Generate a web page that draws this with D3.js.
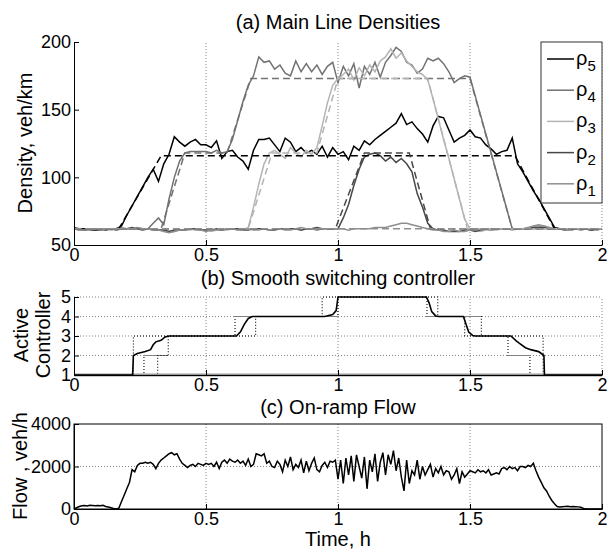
<!DOCTYPE html>
<html>
<head>
<meta charset="utf-8">
<script src="https://cdn.jsdelivr.net/npm/d3@7"></script>
<style>
  body { margin: 0; background: #fff; }
  svg text { font-family: "Liberation Sans", Arial, Helvetica, sans-serif; fill: #000; }
</style>
</head>
<body>
<svg id="chart" width="609" height="551"></svg>
<script>
// ---- data ----
// densities sampled every 0.02 h
let densityTimes = d3.range(0, 101).map(i => +(i * 0.02).toFixed(2))

let rho5 = [
  62, 62, 62, 61, 61, 61, 62, 62, 62, 64,
  72, 79, 86, 93, 100, 106, 97, 110, 117, 130,
  126, 123, 126, 128, 124, 124, 122, 127, 114, 119,
  120, 115, 112, 106, 120, 128, 128, 129, 124, 119,
  129, 126, 119, 122, 118, 120, 117, 123, 115, 122,
  117, 119, 113, 123, 120, 127, 124, 128, 131, 134,
  137, 140, 147, 139, 141, 136, 132, 126, 138, 145,
  144, 135, 126, 129, 131, 135, 130, 129, 124, 121,
  117, 119, 120, 129, 110, 104, 97, 90, 84, 77,
  70, 63, 62, 62, 61, 62, 62, 62, 61, 62,
  62
]
let rho4 = [
  62, 61, 61, 62, 62, 61, 62, 62, 61, 62,
  62, 62, 62, 61, 62, 66, 70, 65, 84, 100,
  112, 118, 119, 119, 119, 119, 118, 120, 118, 119,
  128, 142, 156, 168, 175, 189, 185, 186, 180, 183,
  177, 175, 186, 178, 184, 178, 183, 176, 182, 185,
  170, 182, 175, 184, 166, 182, 176, 185, 174, 185,
  190, 196, 193, 185, 183, 177, 180, 188, 186, 188,
  184, 178, 170, 173, 175, 174, 160, 146, 132, 118,
  104, 90, 76, 62, 62, 62, 62, 63, 64, 63,
  62, 62, 62, 62, 61, 62, 62, 62, 61, 62,
  62
]
let rho3 = [
  62, 62, 61, 61, 62, 62, 62, 61, 62, 62,
  62, 62, 63, 62, 62, 62, 61, 61, 60, 60,
  61, 61, 61, 62, 61, 61, 60, 61, 61, 61,
  62, 61, 61, 63, 78, 95, 110, 118, 120, 117,
  114, 122, 118, 115, 120, 117, 122, 138, 155, 168,
  173, 176, 180, 172, 181, 175, 183, 178, 186, 189,
  195, 188, 192, 186, 182, 178, 176, 172, 158, 143,
  128, 114, 99, 84, 69, 62, 61, 60, 61, 61,
  61, 62, 62, 61, 62, 62, 62, 63, 64, 64,
  63, 62, 62, 62, 61, 62, 62, 62, 61, 62,
  62
]
let rho2 = [
  63, 62, 61, 62, 62, 62, 61, 62, 62, 62,
  62, 63, 62, 62, 62, 61, 61, 61, 60, 61,
  61, 61, 62, 62, 61, 61, 61, 62, 61, 62,
  62, 62, 61, 61, 62, 62, 62, 61, 61, 62,
  62, 62, 62, 61, 62, 62, 63, 62, 62, 62,
  62, 70, 80, 94, 106, 115, 117, 118, 116, 112,
  115, 111, 114, 110, 104, 88, 78, 66, 62, 61,
  61, 60, 60, 60, 61, 61, 60, 61, 62, 62,
  62, 62, 62, 62, 62, 62, 62, 63, 63, 63,
  62, 62, 62, 61, 62, 62, 62, 62, 61, 62,
  62
]
let rho1 = [
  62, 61, 61, 62, 62, 61, 62, 62, 62, 63,
  62, 62, 63, 62, 62, 61, 61, 60, 59, 60,
  61, 61, 62, 61, 61, 60, 61, 61, 61, 62,
  62, 61, 61, 62, 61, 61, 62, 61, 62, 62,
  61, 61, 62, 63, 62, 62, 61, 62, 62, 62,
  62, 62, 61, 62, 62, 62, 62, 63, 63, 63,
  64, 65, 66, 66, 65, 64, 63, 62, 61, 61,
  60, 60, 61, 60, 60, 61, 61, 62, 62, 61,
  62, 62, 62, 62, 62, 62, 63, 64, 65, 64,
  63, 62, 62, 61, 62, 62, 61, 62, 62, 61,
  62
]

// desired (dashed) densities
let refTimes5 = [0, 0.17, 0.33, 1.67, 1.82, 2]
let refValues5 = [62, 62, 116, 116, 62, 62]
let refTimes4 = [0, 0.33, 0.42, 0.58, 0.67, 1.5, 1.66, 2]
let refValues4 = [62, 62, 118, 118, 173, 173, 62, 62]
let refTimes3 = [0, 0.66, 0.75, 0.92, 1.0, 1.34, 1.49, 2]
let refValues3 = [62, 62, 118, 118, 173, 173, 62, 62]
let refTimes2 = [0, 0.99, 1.1, 1.27, 1.35, 2]
let refValues2 = [62, 62, 118, 118, 62, 62]
let refTimes1 = [0, 2]
let refValues1 = [62, 62]

let seriesNames = ['ρ5', 'ρ4', 'ρ3', 'ρ2', 'ρ1']
let seriesColors = ['#000000', '#727272', '#b4b4b4', '#474747', '#8f8f8f']

// active controller (smooth) and switching signals (dotted)
let ctrlTimes = [0, 0.222, 0.225, 0.24, 0.27, 0.29, 0.30, 0.31, 0.33, 0.345, 0.36,
  0.615, 0.63, 0.645, 0.66, 0.675, 0.95, 0.98, 0.993, 1.0, 1.335, 1.345, 1.355, 1.37, 1.38,
  1.475, 1.485, 1.495, 1.51, 1.52, 1.655, 1.675, 1.69, 1.71, 1.73, 1.76, 1.78, 1.782, 2]
let ctrlValues = [1, 1, 2.0, 2.1, 2.2, 2.3, 2.55, 2.7, 2.78, 2.95, 3.0,
  3.0, 3.2, 3.6, 3.9, 4.0, 4.0, 4.1, 4.3, 5.0, 5.0, 4.7, 4.25, 4.03, 4.0,
  4.0, 3.6, 3.2, 3.03, 3.0, 3.0, 2.75, 2.6, 2.4, 2.3, 2.2, 2.0, 1.0, 1]
let switchTimesA = [0, 0.225, 0.225, 0.61, 0.61, 0.94, 0.94, 1.378, 1.378, 1.543, 1.543, 1.777, 1.777, 2]
let switchValuesA = [1, 1, 3, 3, 4, 4, 5, 5, 4, 4, 3, 3, 1, 1]
let switchTimesB = [0, 0.265, 0.265, 0.357, 0.357, 0.688, 0.688, 1.0, 1.0, 1.337, 1.337, 1.48, 1.48, 1.644, 1.644, 1.727, 1.727, 2]
let switchValuesB = [1, 1, 2, 2, 3, 3, 4, 4, 5, 5, 4, 4, 3, 3, 2, 2, 1, 1]
let switchTimesC = [0.265, 0.317, 0.317, 0.357]
let switchValuesC = [1, 1, 2, 2]

// on-ramp flow sampled every 0.01 h
let flowTimes = d3.range(0, 201).map(i => +(i * 0.01).toFixed(2))
let flow = [
  0, 60, 120, 150, 160, 140, 180, 170, 150, 160,
  150, 170, 120, 90, 60, 20, 0, 40, 350, 650,
  950, 1250, 1850, 1750, 2050, 2150, 2150, 2200, 2150, 2200,
  2100, 1900, 2150, 2300, 2400, 2500, 2600, 2650, 2550, 2600,
  2350, 2150, 2050, 1950, 2050, 2100, 2000, 2150, 2100, 2050,
  2150, 2100, 2150, 2000, 2200, 1900, 2200, 2300, 2150, 2350,
  2250, 2200, 2300, 2150, 2250, 2050, 2350, 2000, 2100, 2600,
  2550, 2500, 2600, 2150, 2250, 2000, 1950, 2250, 2100, 1750,
  2300, 2000, 2450, 1850, 2100, 1950, 2300, 1700, 2250, 1800,
  2150, 2400, 1850, 1750, 2050, 2200, 1950, 2250, 2200, 2300,
  1400, 2300, 1200, 2400, 1600, 2500, 1300, 2550, 2000, 1450,
  2450, 950, 2300, 1750, 2600, 1300, 2200, 2650, 1600, 2550,
  2100, 2750, 1800, 2400, 1500, 850, 2300, 1200, 1800, 1600,
  2300, 1400, 2000, 1600, 1850, 2100, 1500, 1900, 1700, 2000,
  1600, 1800, 1750, 1400, 1600, 1900, 1200, 1750, 1500, 1650,
  1800, 1750, 1700, 1850, 1750, 1800, 1700, 1850, 1600, 1650,
  1700, 1650, 1900, 1950, 1850, 2000, 1900, 1950, 1800, 2000,
  2000, 1950, 2050, 2000, 2150, 1800, 1500, 1250, 1000, 850,
  600, 400, 250, 120, 100, 110, 120, 130, 110, 120,
  110, 100, 80, 30, 0, 0, 0, 0, 0, 0,
  0
]

let timeTicks = [0, 0.5, 1, 1.5, 2]
let densityTicks = [50, 100, 150, 200]
let ctrlTicks = [1, 2, 3, 4, 5]
let flowTicks = [0, 2000, 4000]

// ---- layout ----
let svg = d3.select('#chart')
let left = 74
let right = 602
let tickFont = 18
let labelFont = 20

let x = d3.scaleLinear().domain([0, 2]).range([left, right])
let yDen = d3.scaleLinear().domain([50, 200]).range([245, 42])
let yCtl = d3.scaleLinear().domain([1, 5]).range([375, 297])
let yFlow = d3.scaleLinear().domain([0, 4000]).range([509, 424])

let gridColor = '#666'

function pairs (ts, vs) {
  return ts.map((t, i) => [t, vs[i]])
}

function vGrid (y, values) {
  svg.append('g').selectAll('line')
    .data(values)
    .enter().append('line')
    .attr('x1', d => x(d)).attr('x2', d => x(d))
    .attr('y1', y.range()[0]).attr('y2', y.range()[1])
    .attr('stroke', gridColor).attr('stroke-width', 0.8)
    .attr('stroke-dasharray', '1,2')
}

function hGrid (y, values) {
  svg.append('g').selectAll('line')
    .data(values)
    .enter().append('line')
    .attr('x1', left).attr('x2', right)
    .attr('y1', d => y(d)).attr('y2', d => y(d))
    .attr('stroke', gridColor).attr('stroke-width', 0.8)
    .attr('stroke-dasharray', '1,2')
}

function axes (y, yTicks) {
  let bottom = y.range()[0]
  let gx = svg.append('g')
    .attr('transform', 'translate(0,' + bottom + ')')
    .call(d3.axisBottom(x).tickValues(timeTicks).tickFormat(d => d)
      .tickSizeInner(-5).tickSizeOuter(0).tickPadding(3))
  let gy = svg.append('g')
    .attr('transform', 'translate(' + left + ',0)')
    .call(d3.axisLeft(y).tickValues(yTicks).tickFormat(d => d)
      .tickSizeInner(-5).tickSizeOuter(0).tickPadding(3))
  ;[gx, gy].forEach(g => {
    g.select('.domain').attr('stroke', '#000').attr('stroke-width', 1)
    g.selectAll('.tick line').attr('stroke', '#000')
    g.selectAll('text').attr('font-size', tickFont)
      .attr('font-family', '"Liberation Sans", Arial, sans-serif')
  })
}

function title (text, yPos) {
  svg.append('text')
    .attr('x', (left + right) / 2).attr('y', yPos)
    .attr('text-anchor', 'middle').attr('dominant-baseline', 'central')
    .attr('font-size', labelFont)
    .text(text)
}

function yLabel (text, xPos, yPos) {
  svg.append('text')
    .attr('transform', 'translate(' + xPos + ',' + yPos + ') rotate(-90)')
    .attr('text-anchor', 'middle').attr('dominant-baseline', 'central')
    .attr('font-size', labelFont)
    .text(text)
}

// ---- (a) main line densities ----
vGrid(yDen, [0.5, 1, 1.5, 2])
title('(a) Main Line Densities', 22)

let denLine = d3.line().x(d => x(d[0])).y(d => yDen(d[1]))
let solidSeries = [rho5, rho4, rho3, rho2, rho1]
let refSeries = [
  pairs(refTimes5, refValues5), pairs(refTimes4, refValues4), pairs(refTimes3, refValues3),
  pairs(refTimes2, refValues2), pairs(refTimes1, refValues1)
]

solidSeries.forEach((vals, i) => {
  svg.append('path')
    .datum(pairs(densityTimes, vals))
    .attr('d', denLine)
    .attr('fill', 'none')
    .attr('stroke', seriesColors[i])
    .attr('stroke-width', 1.5)
})
refSeries.forEach((pts, i) => {
  svg.append('path')
    .datum(pts)
    .attr('d', denLine)
    .attr('fill', 'none')
    .attr('stroke', seriesColors[i])
    .attr('stroke-width', 1.5)
    .attr('stroke-dasharray', '7,4')
})

axes(yDen, densityTicks)
yLabel('Density,  veh/km', 25, 143)

// legend
let legend = svg.append('g')
legend.append('rect')
  .attr('x', 541).attr('y', 42).attr('width', 61).attr('height', 161)
  .attr('fill', '#fff').attr('stroke', '#333').attr('stroke-width', 1)
seriesNames.forEach((name, i) => {
  let ly = 59 + i * 31.2
  legend.append('line')
    .attr('x1', 547).attr('x2', 574).attr('y1', ly).attr('y2', ly)
    .attr('stroke', seriesColors[i]).attr('stroke-width', 1.5)
  let t = legend.append('text')
    .attr('x', 576).attr('y', ly + 6).attr('font-size', 20)
  t.append('tspan').text(name[0])
  t.append('tspan').attr('dy', 6).attr('font-size', 15).text(name.slice(1))
})

// ---- (b) smooth switching controller ----
vGrid(yCtl, [0.5, 1, 1.5, 2])
hGrid(yCtl, [2, 3, 4, 5])
title('(b) Smooth switching controller', 278)

let ctlLine = d3.line().x(d => x(d[0])).y(d => yCtl(d[1]))
;[[switchTimesA, switchValuesA], [switchTimesB, switchValuesB], [switchTimesC, switchValuesC]].forEach(s => {
  svg.append('path')
    .datum(pairs(s[0], s[1]))
    .attr('d', ctlLine)
    .attr('fill', 'none')
    .attr('stroke', '#000')
    .attr('stroke-width', 1.1)
    .attr('stroke-dasharray', '1,2')
})
svg.append('line')
  .attr('x1', left).attr('x2', right).attr('y1', yCtl(1)).attr('y2', yCtl(1))
  .attr('stroke', '#999').attr('stroke-width', 3)
svg.append('path')
  .datum(pairs(ctrlTimes, ctrlValues))
  .attr('d', ctlLine)
  .attr('fill', 'none')
  .attr('stroke', '#000')
  .attr('stroke-width', 1.6)

axes(yCtl, ctrlTicks)
yLabel('Active', 21, 335)
yLabel('Controller', 43, 335)

// ---- (c) on-ramp flow ----
vGrid(yFlow, [0.5, 1, 1.5])
hGrid(yFlow, [2000])
title('(c) On-ramp Flow', 407)

svg.append('path')
  .datum(pairs(flowTimes, flow))
  .attr('d', d3.line().x(d => x(d[0])).y(d => yFlow(d[1])))
  .attr('fill', 'none')
  .attr('stroke', '#000')
  .attr('stroke-width', 1.5)

svg.append('rect')
  .attr('x', left).attr('y', 424).attr('width', right - left).attr('height', 509 - 424)
  .attr('fill', 'none').attr('stroke', '#000').attr('stroke-width', 1)
axes(yFlow, flowTicks)
yLabel('Flow , veh/h', 20, 466)

svg.append('text')
  .attr('x', (left + right) / 2).attr('y', 539)
  .attr('text-anchor', 'middle').attr('dominant-baseline', 'central')
  .attr('font-size', labelFont)
  .text('Time, h')
</script>
</body>
</html>
